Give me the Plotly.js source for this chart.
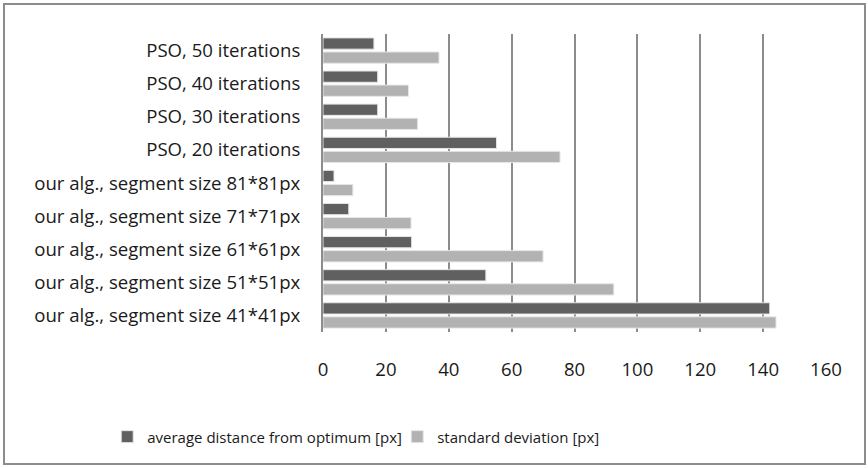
<!DOCTYPE html>
<html>
<head>
<meta charset="utf-8">
<script src="https://cdn.plot.ly/plotly-3.0.1.min.js"></script>
<style>
  html, body { margin: 0; padding: 0; background: #fff; }
  #wrap { position: relative; width: 868px; height: 468px; }
  #chart { width: 868px; height: 468px; }
  #frame { position: absolute; left: 3px; top: 3px; width: 859px; height: 458px;
           border: 2px solid #8c8c8c; pointer-events: none; }
</style>
</head>
<body>
<div id="wrap">
  <div id="chart"></div>
  <div id="frame"></div>
</div>
<script>
// Categories listed top to bottom
const categories = [
  "PSO, 50 iterations",
  "PSO, 40 iterations",
  "PSO, 30 iterations",
  "PSO, 20 iterations",
  "our alg., segment size 81*81px",
  "our alg., segment size 71*71px",
  "our alg., segment size 61*61px",
  "our alg., segment size 51*51px",
  "our alg., segment size 41*41px"
];
const avgDistance = [16.2, 17.4, 17.4, 55.2, 3.5, 8.2, 28.2, 51.8, 142.1];
const stdDeviation = [36.9, 27.2, 30.1, 75.4, 9.5, 28.0, 70.0, 92.5, 144.1];
const seriesNames = ["average distance from optimum [px]", "standard deviation [px]"];
const xTicks = [0, 20, 40, 60, 80, 100, 120, 140, 160];

const tickFont = { family: "Open Sans, sans-serif", size: 18.6, color: "#1a1a1a" };
const legendFont = { family: "Open Sans, sans-serif", size: 15, color: "#1a1a1a" };

const traces = [
  {
    type: "bar", orientation: "h", name: seriesNames[0],
    y: categories, x: avgDistance,
    marker: { color: "#606060", line: { color: "#e6e6e6", width: 1 } }
  },
  {
    type: "bar", orientation: "h", name: seriesNames[1],
    y: categories, x: stdDeviation,
    marker: { color: "#b2b2b2", line: { color: "#e6e6e6", width: 1 } }
  }
];

const layout = {
  width: 868, height: 468,
  margin: { l: 323, r: 42, t: 34, b: 136 },
  paper_bgcolor: "#fff", plot_bgcolor: "#fff",
  font: tickFont,
  barmode: "group",
  bargap: 0.15,
  bargroupgap: 0.2,
  showlegend: true,
  legend: {
    orientation: "h", x: -0.429, xanchor: "left", y: -0.352, yanchor: "middle",
    font: legendFont, traceorder: "normal", bgcolor: "rgba(0,0,0,0)",
    entrywidth: 245
  },
  xaxis: {
    range: [0, 160], tickvals: xTicks, ticktext: xTicks.map(String),
    showgrid: true, gridcolor: "#8c8c8c", gridwidth: 2,
    zeroline: false, showline: false, ticks: "",
    ticklabelstandoff: 24, tickfont: tickFont, fixedrange: true
  },
  yaxis: {
    type: "category", categoryorder: "array", categoryarray: categories,
    autorange: "reversed",
    showgrid: false, zeroline: false,
    showline: true, linecolor: "#8c8c8c", linewidth: 2,
    ticks: "", ticklabelstandoff: 17, tickfont: tickFont, fixedrange: true
  }
};

Plotly.newPlot("chart", traces, layout, { displayModeBar: false, staticPlot: true });
</script>
</body>
</html>
